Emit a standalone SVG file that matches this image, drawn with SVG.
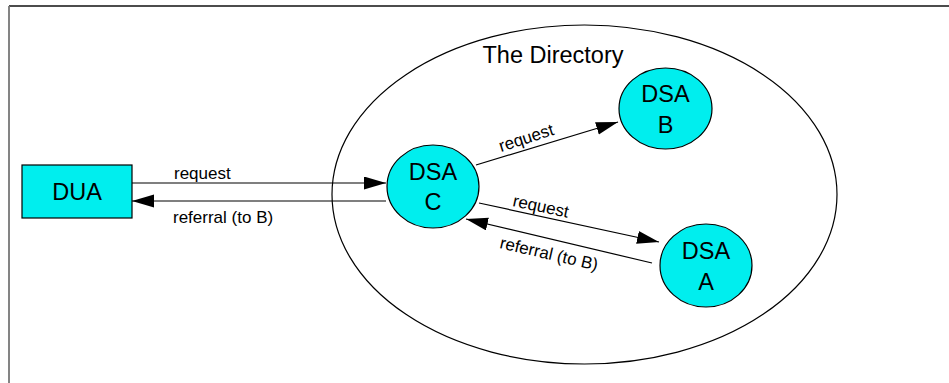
<svg xmlns="http://www.w3.org/2000/svg" width="949" height="383" viewBox="0 0 949 383">
<style>
.node{fill:#00EEEE;stroke:#000;stroke-width:1.2}
.nt{font-family:"Liberation Sans",Arial,sans-serif;font-size:23.5px;fill:#000;text-anchor:middle}
.lbl{font-family:"Liberation Sans",Arial,sans-serif;font-size:17px;fill:#000}
.conn{stroke:#000;stroke-width:1.2;fill:none}
</style>
<defs>
<marker id="ah" markerUnits="userSpaceOnUse" markerWidth="24" markerHeight="14" refX="22" refY="6.5" orient="auto">
<path d="M0,0 L22,6.5 L0,13 Z" fill="#000"/>
</marker>
</defs>
<rect width="949" height="383" fill="#fff"/>
<g id="frame">
<line x1="9" y1="6" x2="949" y2="6" stroke="#111" stroke-width="1.5"/>
<line x1="9" y1="6" x2="9" y2="383" stroke="#777" stroke-width="1.8"/>
</g>
<g id="directory">
<ellipse cx="584.5" cy="194.5" rx="252.5" ry="169.5" fill="none" stroke="#000" stroke-width="1.2"/>
<text class="nt" x="553" y="63">The Directory</text>
</g>
<g id="connectors">
<line class="conn" x1="132" y1="183" x2="386" y2="183" marker-end="url(#ah)"/>
<line class="conn" x1="386" y1="201" x2="132" y2="201" marker-end="url(#ah)"/>
<line class="conn" x1="476" y1="165" x2="618" y2="122" marker-end="url(#ah)"/>
<line class="conn" x1="479" y1="203" x2="659" y2="242" marker-end="url(#ah)"/>
<line class="conn" x1="652" y1="263" x2="466" y2="219" marker-end="url(#ah)"/>
<text class="lbl" x="174" y="179">request</text>
<text class="lbl" x="173" y="223">referral (to B)</text>
<text class="lbl" transform="translate(501,152) rotate(-18)">request</text>
<text class="lbl" transform="translate(512,206) rotate(12)">request</text>
<text class="lbl" transform="translate(499,248) rotate(13)">referral (to B)</text>
</g>
<g id="dua">
<rect class="node" x="22" y="165" width="110" height="53"/>
<text class="nt" x="77" y="200">DUA</text>
</g>
<g id="dsa-c">
<ellipse class="node" cx="433" cy="186.5" rx="46" ry="41.5"/>
<text class="nt" x="433" y="180">DSA</text>
<text class="nt" x="433" y="210">C</text>
</g>
<g id="dsa-b">
<ellipse class="node" cx="665.5" cy="108.5" rx="46.5" ry="40.5"/>
<text class="nt" x="665.5" y="102">DSA</text>
<text class="nt" x="665.5" y="133">B</text>
</g>
<g id="dsa-a">
<ellipse class="node" cx="706" cy="265.5" rx="46" ry="41.5"/>
<text class="nt" x="706" y="259">DSA</text>
<text class="nt" x="706" y="290">A</text>
</g>
</svg>
